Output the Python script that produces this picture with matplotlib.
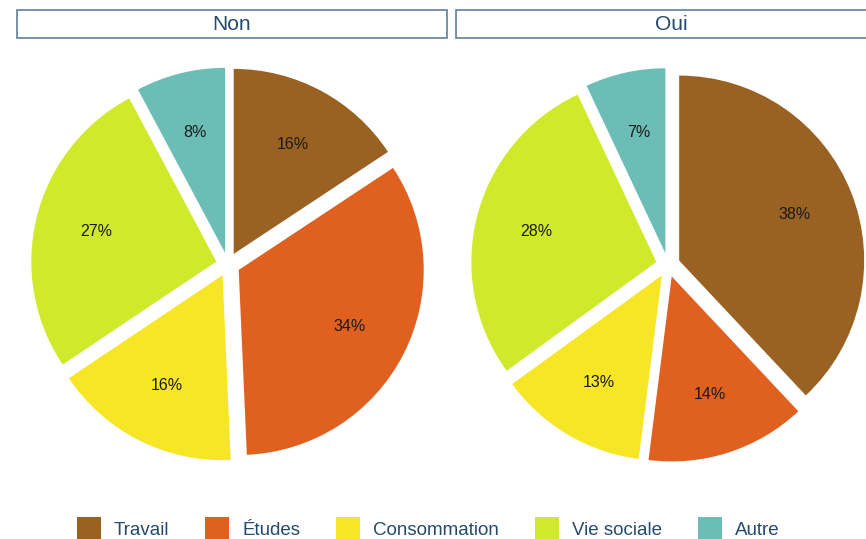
import matplotlib
matplotlib.use("Agg")
import matplotlib.pyplot as plt
from matplotlib.patches import Patch, Rectangle

plt.rcParams['font.family'] = ['Liberation Sans', 'DejaVu Sans']

# data
categories = ['Travail', 'Études', 'Consommation', 'Vie sociale', 'Autre']
colors = ['#996223', '#E0601F', '#F6E626', '#D0EA2B', '#6CBDB5']
panels = ['Non', 'Oui']
share_non = [15.7, 33.6, 16.3, 26.6, 7.8]
share_oui = [38, 14, 13, 28, 7]

W, H = 866, 539
fig = plt.figure(figsize=(W / 100, H / 100), dpi=100)

R = 185      # pie radius, px
half = 220   # half side of the pie axes, px
lim = half / R

text_blue = '#244a6e'
box_edge = '#5f7f9c'

# (centre x, centre y, strip left, strip right, title x) in px from top-left
layout = {
    'Non': (228, 264.5, 17, 447, 232),
    'Oui': (668, 265, 456, 880, 671),
}

for name, values in zip(panels, [share_non, share_oui]):
    cx, cy, bx0, bx1, tx = layout[name]
    ax = fig.add_axes([(cx - half) / W, (H - cy - half) / H, 2 * half / W, 2 * half / H])
    ax.pie(values, colors=colors, startangle=90, counterclock=False,
           explode=[0.065] * len(values), autopct='%.0f%%', pctdistance=0.67,
           textprops=dict(fontsize=11.5, color='#1a1a1a'),
           wedgeprops=dict(linewidth=0))
    ax.set_xlim(-lim, lim)
    ax.set_ylim(-lim, lim)
    ax.set_aspect('equal')
    ax.axis('off')

    # title strip
    fig.add_artist(Rectangle((bx0 / W, (H - 38) / H), (bx1 - bx0) / W, 28 / H,
                             transform=fig.transFigure, facecolor='white',
                             edgecolor=box_edge, linewidth=1.2))
    fig.text(tx / W, (H - 24) / H, name, ha='center', va='center',
             fontsize=15, color=text_blue)

handles = [Patch(facecolor=c, edgecolor='none') for c in colors]
fig.legend(handles, categories, loc='upper left', bbox_to_anchor=(77 / W, (H - 517) / H),
           ncol=5, frameon=False, fontsize=13.5, labelcolor=text_blue,
           handlelength=1.28, handleheight=1.6, handletextpad=0.69,
           columnspacing=1.92, borderpad=0, borderaxespad=0)

fig.savefig('out.png', dpi=100)
